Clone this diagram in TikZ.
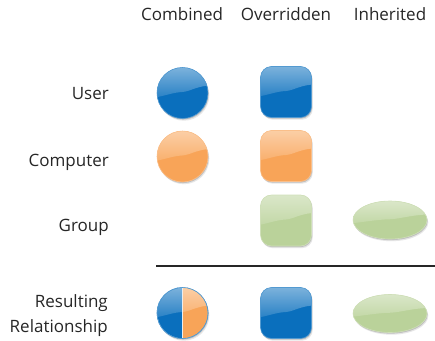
\documentclass[tikz,border=0pt]{standalone}
\usepackage{fontspec}
\setmainfont{Open Sans}
\usetikzlibrary{calc,shapes.geometric}
\definecolor{gblue}{HTML}{0A6FBD}
\definecolor{gorange}{HTML}{F8A458}
\definecolor{ggreen}{HTML}{BAD29A}
% gloss band path in unit box centred at origin, y downward
\newcommand{\glosspath}{(-0.6,-0.6) -- (0.6,-0.6) -- (0.6,-0.15)
    .. controls (0.3,-0.15) and (0.15,-0.03) .. (0,-0.02)
    .. controls (-0.2,-0.01) and (-0.35,0.06) .. (-0.6,0.1) -- cycle}
% #1 colour, #2 width, #3 height (pt)
\newcommand{\glossover}[3]{%
  \begin{scope}[sharp corners, shift={(path picture bounding box.center)}, x={(#2pt,0pt)}, y={(0pt,-#3pt)}]
  \path[sharp corners, top color=#1!48!white, bottom color=#1!88!white] \glosspath;
  \end{scope}}
\newcommand{\gnode}[5]{% shape, look, name, x, y
  \node[#1, shadelook, fill opacity=0.14] (#3-sa) at ($(#4,#5)+(1.3,2.2)$) {};
  \node[#1, shadelook, fill opacity=0.25] (#3-sb) at ($(#4,#5)+(0.6,1.1)$) {};
  \node[#1, #2] (#3) at (#4,#5) {};}
\tikzset{
  lbl/.style={font=\fontsize{17}{20}\selectfont, text=black!85, inner sep=0pt},
  kcirc/.style={circle, minimum size=51pt, inner sep=0pt, line width=0.6pt},
  ksq/.style={rectangle, rounded corners=11pt, minimum size=51pt, inner sep=0pt, line width=0.6pt},
  kell/.style={ellipse, minimum width=74pt, minimum height=38pt, inner sep=0pt, line width=0.6pt},
  shadelook/.style={fill=black!70, draw=none},
  clook/.style={fill=#1, draw=#1!70!white, path picture={\glossover{#1}{51}{51}}},
  elook/.style={fill=#1, draw=#1!70!white, path picture={\glossover{#1}{74}{38}}},
  halflook/.style={draw=gblue!70!white},
  sep/.style={line width=2pt, black!85}
}
\begin{document}
\begin{tikzpicture}[x=1pt,y=-1pt]
\useasboundingbox (0,0) rectangle (435,340);
% headers
\node[lbl, anchor=base] (hcomb) at (182,20) {Combined};
\node[lbl, anchor=base] (hover) at (286,20) {Overridden};
\node[lbl, anchor=base] (hinh) at (390,20) {Inherited};
% row labels
\node[lbl, anchor=base east] (luser) at (109,99) {User};
\node[lbl, anchor=base east] (lcomp) at (109,166) {Computer};
\node[lbl, anchor=base east] (lgroup) at (109,231) {Group};
\node[lbl, anchor=base east] (lres1) at (108,307) {Resulting};
\node[lbl, anchor=base east] (lres2) at (108,332) {Relationship};
% shapes
\gnode{kcirc}{clook=gblue}{ucomb}{182.5}{93}
\gnode{ksq}{clook=gblue}{uover}{286}{92}
\gnode{kcirc}{clook=gorange}{ccomb}{182.5}{156.5}
\gnode{ksq}{clook=gorange}{cover}{286}{156}
\gnode{ksq}{clook=ggreen}{gover}{286}{220.5}
\gnode{kell}{elook=ggreen}{ginh}{390}{220}
% separator
\coordinate (s1) at (156,266);
\coordinate (s2) at (435,266);
\draw[sep] (s1) -- (s2);
% results
\gnode{kcirc}{halflook}{rcomb}{182.5}{313}
\begin{scope}
  \clip (rcomb.center) circle (25.2);
  \fill[gblue] ($(rcomb.center)+(-27,-27)$) rectangle ($(rcomb.center)+(0,27)$);
  \fill[gorange] ($(rcomb.center)+(0,-27)$) rectangle ($(rcomb.center)+(27,27)$);
  \begin{scope}[shift={(rcomb.center)}, x={(51pt,0pt)}, y={(0pt,-51pt)}]
    \clip (-0.6,-0.6) rectangle (0,0.6);
    \path[top color=gblue!48!white, bottom color=gblue!88!white] \glosspath;
  \end{scope}
  \begin{scope}[shift={(rcomb.center)}, x={(51pt,0pt)}, y={(0pt,-51pt)}]
    \clip (0,-0.6) rectangle (0.6,0.6);
    \path[top color=gorange!48!white, bottom color=gorange!88!white] \glosspath;
  \end{scope}
  \draw[white!85!gray, line width=0.6pt] (rcomb.north) -- (rcomb.south);
\end{scope}
\draw[gblue!70!white, line width=0.6pt] (rcomb.center) circle (25.5);
\gnode{ksq}{clook=gblue}{rover}{286}{313}
\gnode{kell}{elook=ggreen}{rinh}{390}{313.5}
\end{tikzpicture}
\end{document}
